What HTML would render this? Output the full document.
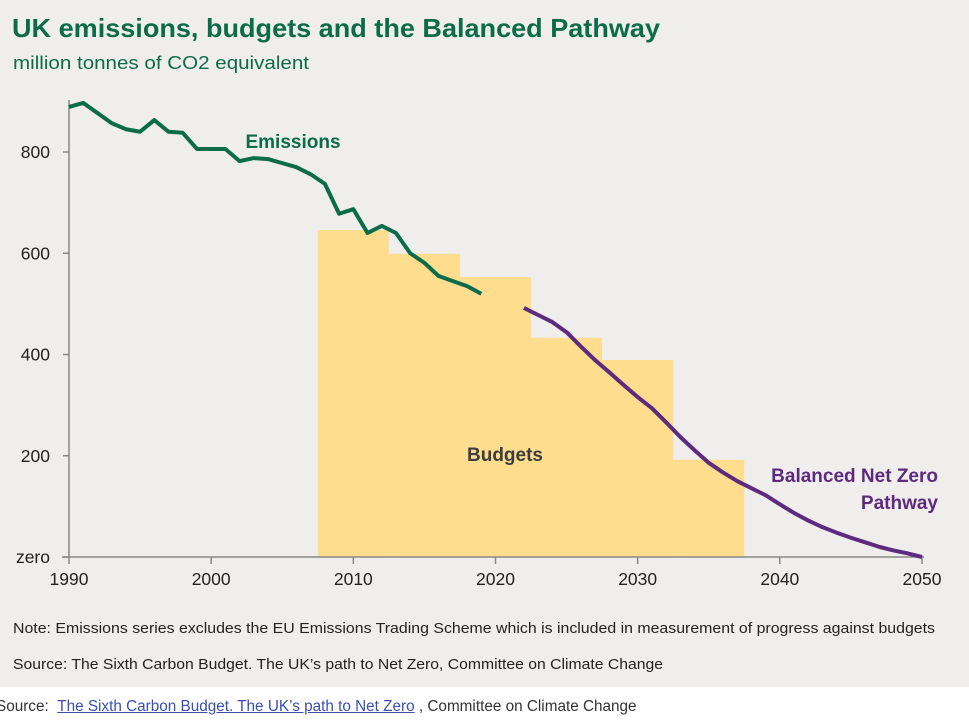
<!DOCTYPE html>
<html><head><meta charset="utf-8"><style>
body{margin:0;width:969px;height:724px;background:#fff;overflow:hidden;font-family:"Liberation Sans",sans-serif}
#panel{position:absolute;left:0;top:0;width:969px;height:687px;background:#efeeed}
svg{position:absolute;left:0;top:0}
#src{position:absolute;left:-4px;top:698px;font-size:15.3px;color:#333;white-space:nowrap}
#src a{color:#3a4fb0;text-decoration:underline}
</style></head><body>
<div id="panel"></div>
<svg id="chart" width="969" height="687">
<text x="12" y="37" font-size="26" font-weight="bold" fill="#0b6b4a" textLength="648" lengthAdjust="spacingAndGlyphs">UK emissions, budgets and the Balanced Pathway</text>
<text x="13" y="69" font-size="18" fill="#0b6b4a" textLength="296" lengthAdjust="spacingAndGlyphs">million tonnes of CO2 equivalent</text>
<g id="budgets"></g><g id="axes"></g><g id="lines"></g>
<text x="293" y="148" font-size="19" font-weight="bold" fill="#0b6b4a" text-anchor="middle">Emissions</text>
<text x="505" y="461" font-size="19" font-weight="bold" fill="#3d3d3d" text-anchor="middle">Budgets</text>
<text x="938" y="482" font-size="19" font-weight="bold" fill="#5e2a7e" text-anchor="end">Balanced Net Zero</text>
<text x="938" y="509" font-size="19" font-weight="bold" fill="#5e2a7e" text-anchor="end">Pathway</text>
<text x="13" y="633" font-size="15" fill="#222" textLength="922" lengthAdjust="spacingAndGlyphs">Note: Emissions series excludes the EU Emissions Trading Scheme which is included in measurement of progress against budgets</text>
<text x="13" y="669" font-size="15" fill="#222" textLength="650" lengthAdjust="spacingAndGlyphs">Source: The Sixth Carbon Budget. The UK’s path to Net Zero, Committee on Climate Change</text>
</svg>
<div id="src">Source: &nbsp;<a>The Sixth Carbon Budget. The UK’s path to Net Zero</a> , Committee on Climate Change</div>
<script>
const emissionYears=[1990,1991,1992,1993,1994,1995,1996,1997,1998,1999,2000,2001,2002,2003,2004,2005,2006,2007,2008,2009,2010,2011,2012,2013,2014,2015,2016,2017,2018,2019];
const emissionValues=[889,897,877,857,845,840,863,840,838,806,806,806,782,788,786,778,770,756,737,678,687,640,654,640,600,581,555,545,535,520];
const pathwayStart=2022;
const pathwayValues=[492,478,464,444,416,389,365,340,316,294,266,237,211,186,167,150,136,122,104,87,72,59,48,38,29,20,13,7,0];
const budgetStarts=[2007.5,2012.5,2017.5,2022.5,2027.5,2032.5];
const budgetValues=[646,599,553,433,389,192];
const xTicks=[1990,2000,2010,2020,2030,2040,2050];
const yTicks=[0,200,400,600,800];
const yTickLabels=["zero","200","400","600","800"];
const NS="http://www.w3.org/2000/svg";
const xs=y=>69+(y-1990)*(922-69)/60;
const ys=v=>557-v*0.50625;
function mk(parent,tag,attrs){const e=document.createElementNS(NS,tag);for(const k in attrs)e.setAttribute(k,attrs[k]);document.getElementById(parent).appendChild(e);return e;}
budgetStarts.forEach((s,i)=>{
 const r=mk('budgets','rect',{x:xs(s),y:ys(budgetValues[i]),width:xs(s+5)-xs(s),height:ys(0)-ys(budgetValues[i]),fill:'#fede8e'});
 
 
});
let a=mk('axes','line',{x1:69,y1:100,x2:69,y2:557,stroke:'#888','stroke-width':1.5});


a=mk('axes','line',{x1:62,y1:557,x2:924,y2:557,stroke:'#888','stroke-width':1.5});


yTicks.forEach((v,i)=>{
 mk('axes','line',{x1:63,x2:69,y1:ys(v),y2:ys(v),stroke:'#888','stroke-width':1.5});
 const t=mk('axes','text',{x:50,y:ys(v)+6,'font-size':17.5,fill:'#222','text-anchor':'end'});
 t.textContent=yTickLabels[i];
 
 
});
xTicks.forEach(v=>{
 mk('axes','line',{x1:xs(v),x2:xs(v),y1:557,y2:564,stroke:'#888','stroke-width':1.5});
 const t=mk('axes','text',{x:xs(v),y:585,'font-size':17.5,fill:'#222','text-anchor':'middle'});
 t.textContent=v;
 
 
});
const ep=emissionValues.map((v,i)=>xs(emissionYears[i])+','+ys(v)).join(' ');
const el=mk('lines','polyline',{points:ep,fill:'none',stroke:'#0b6b4a','stroke-width':4,'stroke-linejoin':'round'});


const pp=pathwayValues.map((v,i)=>xs(pathwayStart+i)+','+ys(v)).join(' ');
const pl=mk('lines','polyline',{points:pp,fill:'none',stroke:'#5e2a7e','stroke-width':4,'stroke-linejoin':'round'});


</script>
</body></html>
